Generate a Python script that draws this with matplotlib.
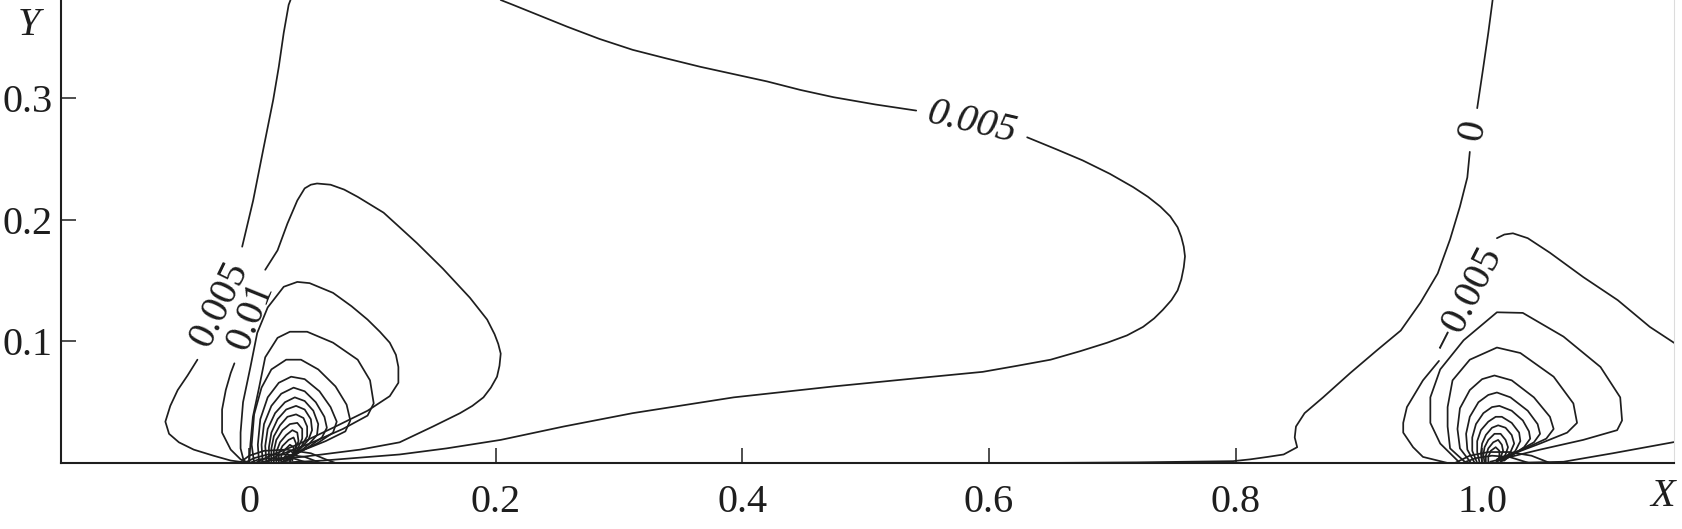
import matplotlib.pyplot as plt
import numpy as np

plt.rcParams['font.family'] = ['Liberation Serif', 'DejaVu Serif']

# stream-line traces, (X, Y) pairs
# left vortex, psi = 0.005 outer branch (split around its label)
left_0005_a = [(0.0335, 0.381), (0.032, 0.377), (0.028, 0.354), (0.024, 0.326), (0.0195, 0.299),
               (0.0114, 0.258), (0.0032, 0.216), (-0.0057, 0.178)]
left_0005_b = [(-0.042, 0.085), (-0.050, 0.072), (-0.058, 0.060), (-0.064, 0.047), (-0.068, 0.034),
               (-0.065, 0.024), (-0.057, 0.017), (-0.045, 0.011), (-0.029, 0.006), (-0.015, 0.002), (0.0, 0.0)]

# big psi = 0.005 tongue reaching x ~ 0.76
big_0005_a = [(0.204, 0.381), (0.214, 0.377), (0.236, 0.368), (0.258, 0.359), (0.284, 0.349), (0.311, 0.340),
              (0.338, 0.333), (0.366, 0.326), (0.393, 0.320), (0.420, 0.314), (0.447, 0.307),
              (0.474, 0.301), (0.508, 0.295), (0.541, 0.290)]
big_0005_b = [(0.631, 0.268), (0.655, 0.258), (0.676, 0.249), (0.698, 0.238), (0.717, 0.227), (0.729, 0.219),
              (0.739, 0.211), (0.747, 0.203), (0.753, 0.194), (0.756, 0.186), (0.758, 0.178),
              (0.759, 0.170), (0.758, 0.161), (0.756, 0.151), (0.753, 0.142), (0.748, 0.134),
              (0.741, 0.126), (0.734, 0.119), (0.725, 0.112), (0.712, 0.105), (0.696, 0.099),
              (0.674, 0.092), (0.650, 0.085), (0.623, 0.080), (0.595, 0.075), (0.544, 0.070),
              (0.474, 0.063), (0.393, 0.054), (0.311, 0.041), (0.255, 0.030), (0.204, 0.019),
              (0.160, 0.012), (0.122, 0.007), (0.060, 0.002), (0.020, 0.0)]

# psi = 0.01 loop
loop_001_a = [(0.013, 0.159), (0.023, 0.175), (0.031, 0.197), (0.039, 0.216), (0.045, 0.226),
              (0.050, 0.229), (0.055, 0.230), (0.066, 0.229), (0.077, 0.225), (0.088, 0.219),
              (0.109, 0.206), (0.122, 0.194), (0.136, 0.181), (0.157, 0.160), (0.179, 0.136),
              (0.193, 0.118), (0.199, 0.106), (0.202, 0.098), (0.204, 0.090), (0.203, 0.080),
              (0.201, 0.071), (0.196, 0.062), (0.190, 0.054), (0.181, 0.047), (0.171, 0.041),
              (0.149, 0.030), (0.122, 0.017), (0.090, 0.011), (0.059, 0.007), (0.017, 0.002), (0.005, 0.0)]
loop_001_b = [(-0.012, 0.082), (-0.015, 0.074), (-0.019, 0.060), (-0.022, 0.044), (-0.022, 0.025),
              (-0.015, 0.011), (-0.007, 0.003), (0.0, 0.0)]

# inner loops of the left vortex
left_loop_3 = [(-0.004, 0.0), (-0.007, 0.012), (-0.007, 0.025), (-0.005, 0.050), (0.001, 0.079),
               (0.0065, 0.107), (0.015, 0.128), (0.028, 0.145), (0.039, 0.149), (0.049, 0.148),
               (0.068, 0.140), (0.083, 0.129), (0.096, 0.118), (0.106, 0.108), (0.114, 0.099),
               (0.119, 0.089), (0.121, 0.079), (0.121, 0.066), (0.114, 0.055), (0.096, 0.043),
               (0.068, 0.029), (0.041, 0.016), (0.015, 0.005), (0.005, 0.0)]
left_loop_4 = [(0.0, 0.0), (0.001, 0.016), (0.003, 0.038), (0.008, 0.062), (0.013, 0.087), (0.023, 0.103),
               (0.033, 0.108), (0.047, 0.108), (0.068, 0.099), (0.088, 0.085), (0.098, 0.068),
               (0.101, 0.049), (0.096, 0.039), (0.076, 0.028), (0.049, 0.016), (0.023, 0.006), (0.012, 0.0)]
left_loop_5 = [(0.004, 0.0), (0.002, 0.015), (0.004, 0.040), (0.010, 0.062), (0.018, 0.077), (0.030, 0.085),
               (0.042, 0.085), (0.056, 0.077), (0.070, 0.063), (0.079, 0.048), (0.082, 0.035),
               (0.078, 0.026), (0.062, 0.018), (0.040, 0.009), (0.022, 0.002)]
left_loop_6 = [(0.008, 0.0), (0.007, 0.015), (0.009, 0.036), (0.015, 0.054), (0.024, 0.066), (0.034, 0.071),
               (0.045, 0.069), (0.057, 0.059), (0.066, 0.046), (0.071, 0.034), (0.068, 0.025),
               (0.055, 0.016), (0.038, 0.008), (0.025, 0.002)]
left_loop_7 = [(0.011, 0.0), (0.010, 0.015), (0.012, 0.032), (0.018, 0.047), (0.026, 0.057), (0.036, 0.062),
               (0.045, 0.059), (0.054, 0.050), (0.061, 0.038), (0.063, 0.029), (0.059, 0.021),
               (0.048, 0.013), (0.036, 0.006), (0.027, 0.001)]
left_loop_8 = [(0.014, 0.0), (0.013, 0.014), (0.015, 0.028), (0.021, 0.041), (0.029, 0.050), (0.037, 0.054),
               (0.045, 0.051), (0.052, 0.043), (0.056, 0.032), (0.055, 0.023), (0.048, 0.015),
               (0.038, 0.007), (0.029, 0.001)]
left_loop_9 = [(0.016, 0.0), (0.016, 0.013), (0.018, 0.025), (0.023, 0.036), (0.030, 0.044), (0.038, 0.047),
               (0.045, 0.044), (0.050, 0.036), (0.051, 0.027), (0.048, 0.019), (0.040, 0.010), (0.031, 0.002)]
left_loop_10 = [(0.018, 0.0), (0.018, 0.012), (0.020, 0.022), (0.025, 0.031), (0.031, 0.038), (0.038, 0.040),
                (0.044, 0.037), (0.047, 0.030), (0.047, 0.022), (0.042, 0.013), (0.033, 0.003)]
left_loop_11 = [(0.020, 0.0), (0.020, 0.010), (0.022, 0.019), (0.027, 0.027), (0.033, 0.032), (0.039, 0.033),
                (0.043, 0.028), (0.043, 0.020), (0.039, 0.011), (0.033, 0.003)]
left_loop_12 = [(0.022, 0.0), (0.022, 0.009), (0.025, 0.017), (0.030, 0.023), (0.035, 0.027), (0.039, 0.025),
                (0.040, 0.018), (0.037, 0.010), (0.033, 0.003)]
left_loop_13 = [(0.024, 0.0), (0.024, 0.008), (0.027, 0.014), (0.032, 0.019), (0.036, 0.021), (0.038, 0.016),
                (0.037, 0.009), (0.033, 0.002)]
left_loop_14 = [(0.026, 0.0), (0.026, 0.006), (0.029, 0.011), (0.033, 0.015), (0.036, 0.013), (0.036, 0.007),
                (0.033, 0.001)]
left_loop_15 = [(0.028, 0.0), (0.028, 0.004), (0.031, 0.008), (0.034, 0.010), (0.036, 0.007), (0.035, 0.002)]
# fan of lines packed into the dark spot at the wall
left_fan_1 = [(-0.008, 0.0), (0.0, 0.006), (0.012, 0.010), (0.030, 0.011), (0.050, 0.008), (0.062, 0.003), (0.070, 0.0)]
left_fan_2 = [(-0.004, 0.0), (0.004, 0.004), (0.015, 0.007), (0.030, 0.007), (0.045, 0.005), (0.058, 0.0)]
left_fan_3 = [(0.0, 0.0), (0.008, 0.003), (0.020, 0.004), (0.035, 0.004), (0.048, 0.0)]

# psi = 0 line coming down to the wall near x ~ 0.85
zero_a = [(1.0085, 0.381), (1.008, 0.377), (1.005, 0.354), (1.001, 0.326), (0.996, 0.292)]
zero_b = [(0.990, 0.256), (0.988, 0.235), (0.982, 0.211), (0.974, 0.184), (0.964, 0.156), (0.950, 0.132),
          (0.934, 0.109), (0.915, 0.093), (0.893, 0.074), (0.871, 0.054), (0.856, 0.041), (0.849, 0.030),
          (0.848, 0.021), (0.850, 0.013), (0.839, 0.007), (0.826, 0.005), (0.812, 0.003), (0.798, 0.0015),
          (0.72, 0.0005), (0.64, 0.0)]

# right vortex, psi = -0.005 (split around its label)
right_m0005_a = [(0.972, 0.0), (0.952, 0.005), (0.944, 0.013), (0.936, 0.025), (0.936, 0.033),
                 (0.939, 0.046), (0.952, 0.068), (0.965, 0.084)]
right_m0005_b = [(1.012, 0.185), (1.018, 0.188), (1.025, 0.189), (1.037, 0.185), (1.055, 0.173),
                 (1.082, 0.153), (1.110, 0.134), (1.136, 0.112), (1.160, 0.096)]
right_tail = [(1.020, 0.0), (1.066, 0.001), (1.106, 0.008), (1.160, 0.018)]

# inner loops of the right vortex
right_loop_2 = [(0.982, 0.0), (0.966, 0.016), (0.958, 0.033), (0.958, 0.054), (0.966, 0.077), (0.985, 0.101),
                (1.012, 0.124), (1.033, 0.1235), (1.066, 0.104), (1.096, 0.079), (1.112, 0.054),
                (1.1135, 0.035), (1.1095, 0.027), (1.082, 0.019), (1.047, 0.011), (1.0065, 0.001)]
right_loop_3 = [(0.987, 0.0), (0.974, 0.012), (0.972, 0.030), (0.972, 0.046), (0.976, 0.068), (0.990, 0.085),
                (1.012, 0.095), (1.031, 0.0905), (1.058, 0.071), (1.074, 0.049), (1.077, 0.033),
                (1.069, 0.025), (1.047, 0.016), (1.012, 0.0025)]
right_loop_4 = [(0.991, 0.0), (0.982, 0.012), (0.980, 0.028), (0.982, 0.045), (0.990, 0.060), (1.000, 0.069),
                (1.010, 0.072), (1.024, 0.068), (1.042, 0.054), (1.055, 0.038), (1.058, 0.028),
                (1.052, 0.020), (1.035, 0.012), (1.012, 0.003)]
right_loop_5 = [(0.994, 0.0), (0.988, 0.011), (0.987, 0.024), (0.990, 0.038), (0.997, 0.050), (1.005, 0.056),
                (1.012, 0.058), (1.023, 0.054), (1.037, 0.043), (1.045, 0.032), (1.047, 0.024),
                (1.042, 0.017), (1.028, 0.009), (1.014, 0.002)]
right_loop_6 = [(0.996, 0.0), (0.992, 0.010), (0.992, 0.021), (0.995, 0.032), (1.001, 0.041), (1.008, 0.046),
                (1.014, 0.047), (1.024, 0.043), (1.033, 0.035), (1.038, 0.026), (1.039, 0.020),
                (1.034, 0.013), (1.024, 0.006), (1.015, 0.001)]
right_loop_7 = [(0.998, 0.0), (0.996, 0.009), (0.996, 0.018), (0.999, 0.027), (1.005, 0.034), (1.011, 0.038),
                (1.016, 0.038), (1.024, 0.033), (1.030, 0.025), (1.031, 0.018), (1.027, 0.010), (1.018, 0.002)]
right_loop_8 = [(1.000, 0.0), (0.999, 0.008), (1.000, 0.016), (1.003, 0.023), (1.008, 0.029), (1.013, 0.031),
                (1.019, 0.029), (1.024, 0.023), (1.026, 0.016), (1.023, 0.009), (1.017, 0.002)]
right_loop_9 = [(1.002, 0.0), (1.001, 0.007), (1.002, 0.013), (1.005, 0.019), (1.010, 0.024), (1.015, 0.024),
                (1.019, 0.019), (1.021, 0.013), (1.019, 0.007), (1.015, 0.001)]
right_loop_10 = [(1.003, 0.0), (1.003, 0.006), (1.005, 0.012), (1.009, 0.017), (1.013, 0.019), (1.016, 0.015),
                 (1.017, 0.010), (1.015, 0.005), (1.012, 0.0)]
right_loop_11 = [(1.005, 0.0), (1.005, 0.005), (1.007, 0.010), (1.011, 0.013), (1.014, 0.010), (1.014, 0.005),
                 (1.011, 0.0)]
right_fan_1 = [(0.978, 0.0), (0.990, 0.006), (1.005, 0.009), (1.022, 0.009), (1.040, 0.006), (1.055, 0.0)]
right_fan_2 = [(0.984, 0.0), (0.995, 0.004), (1.008, 0.006), (1.022, 0.005), (1.038, 0.0)]

streamlines = [left_0005_a, left_0005_b, big_0005_a, big_0005_b, loop_001_a, loop_001_b,
               left_loop_3, left_loop_4, left_loop_5, left_loop_6, left_loop_7, left_loop_8,
               left_loop_9, left_loop_10, left_loop_11, left_loop_12, left_loop_13, left_loop_14,
               left_loop_15, left_fan_1, left_fan_2, left_fan_3, zero_a, zero_b,
               right_m0005_a, right_m0005_b, right_tail,
               right_loop_2, right_loop_3, right_loop_4, right_loop_5, right_loop_6, right_loop_7,
               right_loop_8, right_loop_9, right_loop_10, right_loop_11, right_fan_1, right_fan_2]

# contour labels
label_text = ['0.005', '0.01', '0.005', '0', '\u22120.005']
label_x = [-0.024, 0.001, 0.586, 0.993, 0.988]
label_y = [0.131, 0.121, 0.280, 0.274, 0.135]
label_rot = [64, 68, -13, 78, 63]
label_style = ['normal', 'normal', 'italic', 'normal', 'normal']

x_ticks = [0, 0.2, 0.4, 0.6, 0.8, 1.0]
x_ticklabels = ['0', '0.2', '0.4', '0.6', '0.8', '1.0']
y_ticks = [0.1, 0.2, 0.3]
y_ticklabels = ['0.1', '0.2', '0.3']

ink = '#1e1e1e'

fig = plt.figure(figsize=(16.82, 5.29), dpi=100)
ax = fig.add_axes([0.0363, 0.1248, 0.9590, 0.8752])

for line in streamlines:
    xy = np.array(line)
    ax.plot(xy[:, 0], xy[:, 1], color=ink, lw=1.25, solid_joinstyle='round', solid_capstyle='round')

for txt, lx, ly, rot, st in zip(label_text, label_x, label_y, label_rot, label_style):
    ax.text(lx, ly, txt, rotation=rot, rotation_mode='anchor', ha='center', va='center',
            fontsize=29, style=st, color=ink)

ax.set_xlim(-0.1526, 1.1557)
ax.set_ylim(0, 0.381)
ax.set_xticks(x_ticks)
ax.set_xticklabels(x_ticklabels)
ax.set_yticks(y_ticks)
ax.set_yticklabels(y_ticklabels)
ax.tick_params(direction='in', length=10.5, width=1.1, labelsize=29, color=ink, labelcolor=ink)
ax.tick_params(axis='x', pad=15)
ax.tick_params(axis='y', pad=6)

ax.spines['top'].set_visible(False)
ax.spines['right'].set_color('#dcdcdc')
ax.spines['right'].set_linewidth(0.8)
for s in ['left', 'bottom']:
    ax.spines[s].set_color(ink)
    ax.spines[s].set_linewidth(1.5)

fig.text(0.9887, 0.0605, 'X', style='italic', fontsize=29, ha='center', va='center', color=ink)
fig.text(0.0170, 0.952, 'Y', style='italic', fontsize=29, ha='center', va='center', color=ink)

fig.savefig('out.png', dpi=100)
